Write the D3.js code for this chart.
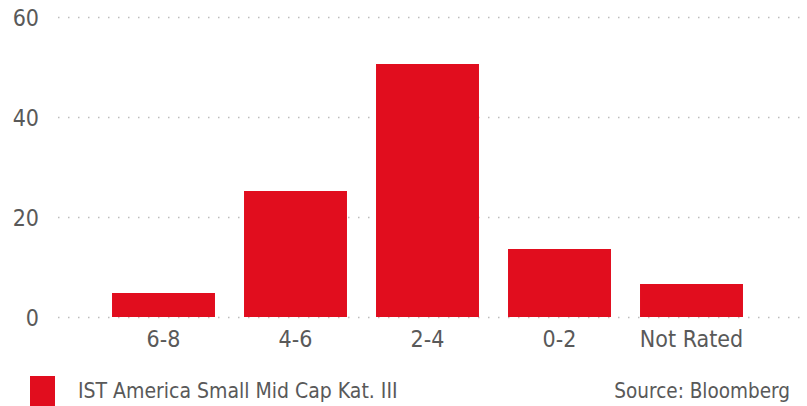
<!DOCTYPE html>
<html>
<head>
<meta charset="utf-8">
<script src="https://cdn.jsdelivr.net/npm/d3@7"></script>
<style>
  body { margin: 0; background: #fff; }
  text { font-family: "DejaVu Sans Condensed", "DejaVu Sans", sans-serif; fill: #595959; }
</style>
</head>
<body>
<svg id="chart" width="807" height="406"></svg>
<script>
// values
var categories = ["6-8", "4-6", "2-4", "0-2", "Not Rated"];
var values = [4.8, 25.2, 50.6, 13.6, 6.6];
var yTicks = [0, 20, 40, 60];
var seriesName = "IST America Small Mid Cap Kat. III";
var sourceText = "Source: Bloomberg";

var red = "#e10d1e";
var svg = d3.select("#chart");

var x = d3.scaleBand()
    .domain(categories)
    .range([97.5, 757.5])
    .paddingInner(0.22)
    .paddingOuter(0.11);

var y = d3.scaleLinear()
    .domain([0, 60])
    .range([317, 17]);

// dotted grid
svg.append("g")
    .selectAll("line")
    .data(yTicks)
    .enter()
    .append("line")
    .attr("x1", 58)
    .attr("x2", 802)
    .attr("y1", function (d) { return y(d) + 0.5; })
    .attr("y2", function (d) { return y(d) + 0.5; })
    .attr("stroke", "#bdbdbd")
    .attr("stroke-width", 1.5)
    .attr("stroke-dasharray", "1.5,8.5");

// y axis labels
var yAxis = d3.axisLeft(y).tickValues(yTicks).tickSize(0).tickPadding(0);
svg.append("g")
    .attr("transform", "translate(39,0)")
    .call(yAxis)
    .call(function (g) { g.select(".domain").remove(); })
    .selectAll("text")
    .style("font-size", "23px")
    .attr("fill", "#595959")
    .attr("dy", "0.36em");

// bars
svg.append("g")
    .selectAll("rect")
    .data(values)
    .enter()
    .append("rect")
    .attr("x", function (d, i) { return x(categories[i]); })
    .attr("width", x.bandwidth())
    .attr("y", function (d) { return y(d); })
    .attr("height", function (d) { return y(0) - y(d); })
    .attr("fill", red);

// x axis labels
var xAxis = d3.axisBottom(x).tickSize(0).tickPadding(0);
svg.append("g")
    .attr("transform", "translate(0,331)")
    .call(xAxis)
    .call(function (g) { g.select(".domain").remove(); })
    .selectAll("text")
    .style("font-size", "23px")
    .attr("fill", "#595959")
    .attr("dy", "0.71em");

// legend
svg.append("rect")
    .attr("x", 30)
    .attr("y", 376)
    .attr("width", 25)
    .attr("height", 30)
    .attr("fill", red);

svg.append("text")
    .attr("x", 78)
    .attr("y", 398)
    .style("font-size", "21px")
    .text(seriesName);

svg.append("text")
    .attr("x", 790)
    .attr("y", 398)
    .attr("text-anchor", "end")
    .style("font-size", "20.5px")
    .text(sourceText);
</script>
</body>
</html>
